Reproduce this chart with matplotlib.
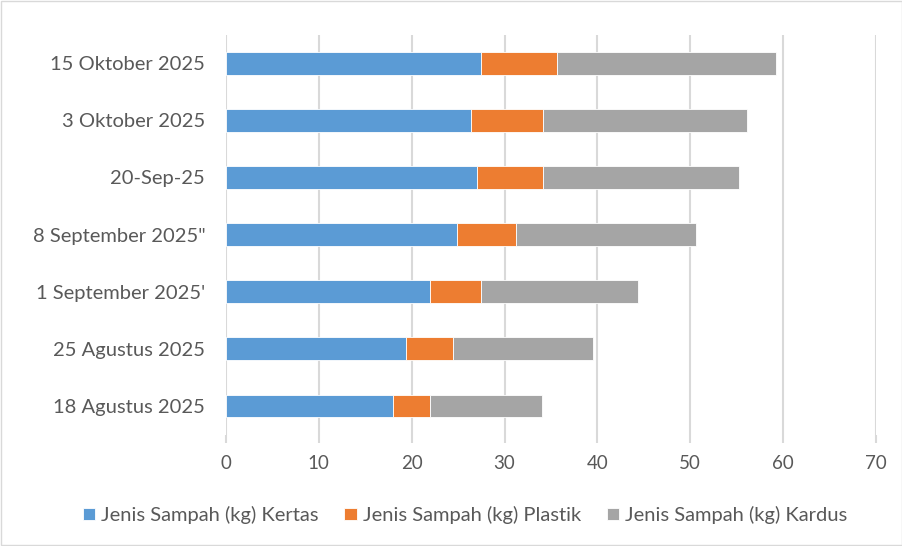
import matplotlib
matplotlib.use("Agg")
from matplotlib import pyplot as plt
from matplotlib.patches import Rectangle

# Data (bottom to top)
dates = ["18 Agustus 2025", "25 Agustus 2025", "1 September 2025'",
         "8 September 2025\"", "20-Sep-25", "3 Oktober 2025", "15 Oktober 2025"]
kertas = [18.0, 19.4, 22.0, 24.9, 27.0, 26.4, 27.5]
plastik = [4.0, 5.1, 5.5, 6.3, 7.1, 7.7, 8.2]
kardus = [12.0, 15.0, 16.9, 19.4, 21.2, 22.0, 23.5]

labels = ["Jenis Sampah (kg) Kertas", "Jenis Sampah (kg) Plastik",
          "Jenis Sampah (kg) Kardus"]
colors = ["#5b9bd5", "#ed7d31", "#a5a5a5"]

plt.rcParams['font.family'] = ['Lato', 'DejaVu Sans']

fig = plt.figure(figsize=(9.03, 5.46), dpi=100)
ax = fig.add_axes([226/903, 1 - 434.6/546, 650/903, 400/546])

y = range(len(dates))
left = [0] * len(dates)
for vals, lab, col in zip([kertas, plastik, kardus], labels, colors):
    ax.barh(y, vals, left=left, height=0.4, color=col, label=lab,
            edgecolor='white', linewidth=0.6, zorder=3)
    left = [a + b for a, b in zip(left, vals)]

ax.set_xlim(0, 70)
ax.set_ylim(-0.5, len(dates) - 0.5)
ax.set_xticks(range(0, 71, 10))
ax.set_yticks(list(y))
ax.set_yticklabels(dates)

ax.grid(axis='x', color='#d9d9d9', linewidth=1.5, zorder=0)
for s in ax.spines.values():
    s.set_visible(False)
ax.tick_params(axis='x', length=6, width=1.5, color='#d9d9d9',
               labelsize=13.5, labelcolor='#595959', pad=9)
ax.tick_params(axis='y', length=0, labelsize=14.5, labelcolor='#595959', pad=15)

fig.legend(loc='center', bbox_to_anchor=(0.515, 1 - 515/546), ncol=3,
           frameon=False, fontsize=14.5, labelcolor='#595959',
           handlelength=0.6, handleheight=0.6, handletextpad=0.3,
           columnspacing=1.3)

fig.patches.append(Rectangle((0.001, 0.001), 0.998, 0.998, transform=fig.transFigure,
                             fill=False, edgecolor='#d9d9d9', linewidth=1))

fig.savefig("out.png", dpi=100)
